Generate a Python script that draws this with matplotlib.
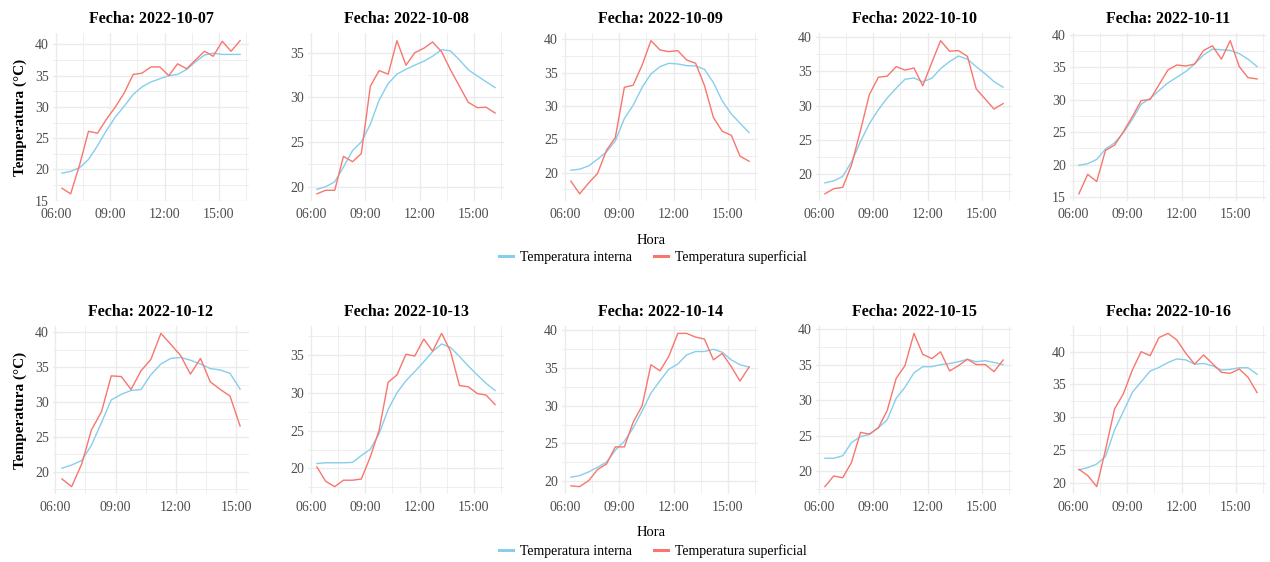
import matplotlib
matplotlib.use("Agg")
import matplotlib.pyplot as plt
from matplotlib.ticker import MultipleLocator, FuncFormatter
from matplotlib.lines import Line2D

plt.rcParams["font.family"] = ["Liberation Serif", "DejaVu Serif"]

# Sampling times (hh:mm) of the daily readings
horas = ["06:20", "06:49", "07:19", "07:48", "08:18", "08:47", "09:17",
         "09:46", "10:16", "10:45", "11:15", "11:44", "12:14", "12:43",
         "13:13", "13:42", "14:12", "14:41", "15:11", "15:40", "16:10"]

fechas = ["2022-10-07", "2022-10-08", "2022-10-09", "2022-10-10", "2022-10-11",
          "2022-10-12", "2022-10-13", "2022-10-14", "2022-10-15", "2022-10-16"]

# Internal temperature (°C) per day
interna_07 = [19.4, 19.7, 20.3, 21.6, 23.8, 26.2, 28.4, 30.1, 32.0, 33.2, 34.0,
              34.5, 35.0, 35.2, 36.0, 37.2, 38.3, 38.6, 38.4, 38.4, 38.4]
interna_08 = [19.7, 20.0, 20.55, 22.2, 24.05, 25.0, 27.0, 29.7, 31.55, 32.6, 33.15,
              33.6, 34.05, 34.6, 35.35, 35.2, 34.2, 33.1, 32.4, 31.75, 31.1]
interna_09 = [20.35, 20.5, 21.0, 22.0, 23.1, 24.75, 28.1, 30.1, 32.8, 34.8, 35.9,
              36.4, 36.3, 36.05, 36.0, 35.5, 33.5, 30.75, 28.8, 27.4, 26.0]
interna_10 = [18.7, 19.0, 19.65, 21.75, 24.75, 27.35, 29.4, 31.1, 32.55, 33.85, 34.05,
              33.5, 34.0, 35.4, 36.45, 37.25, 36.8, 35.7, 34.65, 33.5, 32.7]
interna_11 = [19.9, 20.15, 20.8, 22.4, 23.35, 24.9, 27.0, 29.3, 30.2, 31.4, 32.6,
              33.45, 34.35, 35.5, 36.9, 37.8, 37.7, 37.6, 37.1, 36.25, 35.1]
interna_12 = [20.5, 20.95, 21.6, 23.8, 27.05, 30.3, 31.1, 31.65, 31.8, 33.9, 35.45,
              36.25, 36.4, 36.0, 35.45, 34.8, 34.6, 34.1, 31.85]
interna_13 = [20.65, 20.75, 20.75, 20.75, 20.8, 21.7, 22.55, 24.6, 27.8, 30.0, 31.6,
              32.8, 34.1, 35.45, 36.45, 36.0, 34.8, 33.55, 32.35, 31.25, 30.3]
interna_14 = [20.55, 20.75, 21.25, 21.85, 22.55, 24.1, 25.3, 27.05, 29.3, 31.65, 33.3,
              34.8, 35.5, 36.7, 37.15, 37.15, 37.45, 37.05, 36.05, 35.4, 35.1]
interna_15 = [21.8, 21.8, 22.15, 24.0, 24.85, 25.15, 26.1, 27.2, 30.25, 31.8, 33.85,
              34.7, 34.7, 35.0, 35.15, 35.4, 35.75, 35.4, 35.55, 35.3, 35.0]
interna_16 = [21.95, 22.3, 22.85, 24.0, 28.05, 30.85, 33.8, 35.4, 37.05, 37.6, 38.35,
              38.9, 38.75, 38.1, 38.2, 37.85, 37.2, 37.3, 37.55, 37.55, 36.55]

# Surface temperature (°C) per day
superficial_07 = [17.0, 16.1, 20.8, 26.1, 25.8, 28.0, 30.0, 32.2, 35.2, 35.4, 36.4,
                  36.4, 35.0, 36.9, 36.1, 37.5, 38.9, 38.1, 40.5, 38.9, 40.6]
superficial_08 = [19.2, 19.6, 19.6, 23.4, 22.8, 23.7, 31.25, 33.0, 32.6, 36.35, 33.6,
                  35.0, 35.5, 36.2, 35.1, 33.1, 31.25, 29.45, 28.85, 28.9, 28.25]
superficial_09 = [18.7, 16.8, 18.45, 19.85, 23.35, 25.25, 32.8, 33.1, 36.15, 39.8, 38.4,
                  38.15, 38.3, 36.9, 36.4, 33.1, 28.25, 26.2, 25.6, 22.45, 21.7]
superficial_10 = [17.1, 17.85, 18.05, 21.3, 26.4, 31.6, 34.15, 34.3, 35.7, 35.2, 35.5,
                  32.9, 36.3, 39.5, 37.95, 38.05, 37.2, 32.45, 30.95, 29.5, 30.3]
superficial_11 = [15.5, 18.5, 17.4, 22.2, 23.0, 25.05, 27.4, 29.85, 30.05, 32.3, 34.6,
                  35.35, 35.2, 35.5, 37.6, 38.3, 36.25, 39.1, 35.1, 33.4, 33.2]
superficial_12 = [18.95, 17.85, 21.1, 26.0, 28.6, 33.75, 33.65, 31.8, 34.5, 36.1, 39.85,
                  38.3, 36.65, 34.0, 36.25, 32.9, 31.8, 30.85, 26.55]
superficial_13 = [20.2, 18.3, 17.6, 18.45, 18.45, 18.6, 21.55, 25.05, 31.4, 32.35, 35.1,
                  34.85, 37.1, 35.5, 37.85, 35.5, 30.95, 30.8, 29.9, 29.7, 28.45]
superficial_14 = [19.4, 19.3, 20.1, 21.55, 22.3, 24.55, 24.55, 27.8, 30.0, 35.4, 34.6,
                  36.5, 39.55, 39.55, 39.05, 38.8, 36.05, 36.9, 35.15, 33.25, 35.1]
superficial_15 = [17.8, 19.3, 19.05, 21.2, 25.45, 25.2, 26.1, 28.5, 33.05, 34.85, 39.4,
                  36.45, 35.85, 36.8, 34.1, 34.85, 35.75, 35.0, 35.0, 34.0, 35.65]
superficial_16 = [22.05, 21.1, 19.4, 25.0, 31.25, 33.55, 37.2, 40.0, 39.4, 42.15, 42.8,
                  41.8, 39.75, 38.1, 39.5, 38.2, 36.85, 36.7, 37.35, 36.1, 33.75]

interna = [interna_07, interna_08, interna_09, interna_10, interna_11,
           interna_12, interna_13, interna_14, interna_15, interna_16]
superficial = [superficial_07, superficial_08, superficial_09, superficial_10, superficial_11,
               superficial_12, superficial_13, superficial_14, superficial_15, superficial_16]

COL_INT = "#87CEEB"
COL_SUP = "#F8766D"
GRID = "#EBEBEB"
TICK_COL = "#4D4D4D"

W, H = 1270, 562
fig = plt.figure(figsize=(W / 100, H / 100), dpi=100)


def hora_a_float(h):
    hh, mm = h.split(":")
    return int(hh) + int(mm) / 60.0


def fmt_hora(v, pos):
    m = int(round(v * 60))
    return "%02d:%02d" % (m // 60, m % 60)


lefts = [53, 308, 562, 816, 1070]
pw = 196
rows = [(33, 201.5), (325.7, 494.3)]

for i, fecha in enumerate(fechas):
    r, c = divmod(i, 5)
    top, bot = rows[r]
    ax = fig.add_axes([lefts[c] / W, 1 - bot / H, pw / W, (bot - top) / H])
    n = len(interna[i])
    x = [hora_a_float(h) for h in horas[:n]]
    ax.plot(x, interna[i], color=COL_INT, lw=1.0, zorder=3)
    ax.plot(x, superficial[i], color=COL_SUP, lw=1.0, zorder=4)
    ax.margins(x=0.05, y=0.05)
    ax.xaxis.set_major_locator(MultipleLocator(3))
    ax.xaxis.set_minor_locator(MultipleLocator(1.5))
    ax.xaxis.set_major_formatter(FuncFormatter(fmt_hora))
    ax.yaxis.set_major_locator(MultipleLocator(5))
    ax.yaxis.set_minor_locator(MultipleLocator(2.5))
    ax.grid(which="major", color=GRID, lw=1.0)
    ax.grid(which="minor", color=GRID, lw=0.55)
    ax.set_axisbelow(True)
    for s in ax.spines.values():
        s.set_visible(False)
    ax.tick_params(which="both", length=0, labelsize=10, labelcolor=TICK_COL)
    ax.tick_params(axis="x", pad=5)
    ax.tick_params(axis="y", pad=3)
    ax.set_title("Fecha: " + fecha, fontsize=11.5, fontweight="bold", pad=7)
    if c == 0:
        ax.set_ylabel("Temperatura (°C)", fontsize=11, fontweight="bold", labelpad=6)

handles = [Line2D([], [], color=COL_INT, lw=2.2),
           Line2D([], [], color=COL_SUP, lw=2.2)]
labels = ["Temperatura interna", "Temperatura superficial"]
for hora_y, leg_y in [(240, 257), (533, 551)]:
    fig.text(651 / W, 1 - hora_y / H, "Hora", ha="center", va="center", fontsize=10.5)
    fig.legend(handles, labels, loc="center", bbox_to_anchor=(653 / W, 1 - leg_y / H),
               ncol=2, frameon=False, fontsize=10, handlelength=1.0,
               handletextpad=0.5, columnspacing=1.6, borderpad=0, borderaxespad=0)

fig.savefig("out.png", dpi=100, facecolor="white")
